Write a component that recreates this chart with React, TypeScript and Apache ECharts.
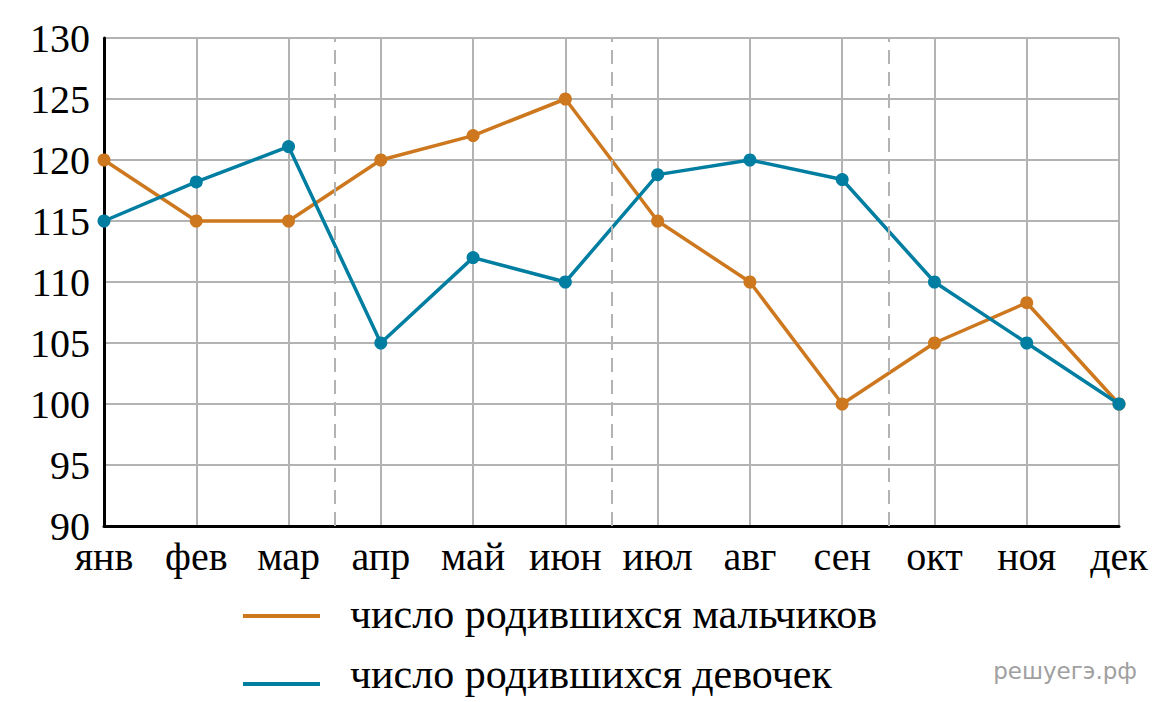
import React, { useEffect, useRef } from "react";
import * as echarts from "echarts";

const months = ["янв", "фев", "мар", "апр", "май", "июн", "июл", "авг", "сен", "окт", "ноя", "дек"];
const boys = [120, 115, 115, 120, 122, 125, 115, 110, 100, 105, 108.3, 100];
const girls = [115, 118.2, 121.1, 105, 112, 110, 118.8, 120, 118.4, 110, 105, 100];
const quarterBreaks = [2.5, 5.5, 8.5];
const boysName = "число родившихся мальчиков";
const girlsName = "число родившихся девочек";

const ORANGE = "#cd781e";
const BLUE = "#007ea1";
const GRID = "#b3b3b3";
const SERIF = "'Liberation Serif', 'DejaVu Serif', serif";

export default function App() {
  const ref = useRef<HTMLDivElement>(null);
  useEffect(() => {
    const chart = echarts.init(ref.current!, null, { renderer: "svg" });
    const legendItems = [
      { name: boysName, color: ORANGE, lineY: 616, textY: 614 },
      { name: girlsName, color: BLUE, lineY: 684, textY: 674 },
    ];
    chart.setOption({
      animation: false,
      backgroundColor: "#fff",
      grid: { left: 104, right: 38, top: 38, bottom: 176, containLabel: false },
      xAxis: [
        {
          type: "category",
          data: months,
          boundaryGap: false,
          axisLine: { show: true, lineStyle: { color: "#000", width: 3 } },
          axisTick: { show: false },
          axisLabel: { interval: 0, fontFamily: SERIF, fontSize: 40, lineHeight: 30, color: "#000", margin: 15 },
          splitLine: { show: true, interval: 0, lineStyle: { color: GRID, width: 2 } },
        },
        {
          type: "value",
          min: 0,
          max: 11,
          show: false,
        },
      ],
      yAxis: {
        type: "value",
        min: 90,
        max: 130,
        interval: 5,
        axisLine: { show: true, lineStyle: { color: "#000", width: 3 } },
        axisTick: { show: false },
        axisLabel: { fontFamily: SERIF, fontSize: 40, lineHeight: 30, color: "#000", margin: 14 },
        splitLine: { show: true, lineStyle: { color: GRID, width: 2 } },
      },
      graphic: [
        ...legendItems.flatMap((it) => [
          {
            type: "line",
            shape: { x1: 243, y1: it.lineY, x2: 320, y2: it.lineY },
            style: { stroke: it.color, lineWidth: 4 },
          },
          {
            type: "text",
            x: 350,
            y: it.textY,
            style: {
              text: it.name,
              fontFamily: SERIF,
              fontSize: 42,
              fill: "#000",
              verticalAlign: "middle",
            },
          },
        ]),
        {
          type: "text",
          right: 20,
          top: 659,
          style: {
            text: "решуегэ.рф",
            fontFamily: "'DejaVu Sans', sans-serif",
            fontSize: 23,
            fill: "#a0a0a0",
          },
        },
      ],
      series: [
        {
          type: "line",
          xAxisIndex: 1,
          data: [],
          silent: true,
          markLine: {
            silent: true,
            symbol: "none",
            label: { show: false },
            lineStyle: { color: GRID, width: 2, type: [14, 8] },
            data: quarterBreaks.map((v) => ({ xAxis: v })),
          },
        },
        {
          name: boysName,
          type: "line",
          data: boys,
          symbol: "circle",
          symbolSize: 13,
          lineStyle: { color: ORANGE, width: 3.5 },
          itemStyle: { color: ORANGE },
          z: 3,
        },
        {
          name: girlsName,
          type: "line",
          data: girls,
          symbol: "circle",
          symbolSize: 13,
          lineStyle: { color: BLUE, width: 3.5 },
          itemStyle: { color: BLUE },
          z: 4,
        },
      ],
    });
    return () => chart.dispose();
  }, []);
  return (
    <div
      ref={ref}
      style={{ position: "fixed", left: 0, top: 0, width: 1157, height: 702, background: "#fff" }}
    />
  );
}
